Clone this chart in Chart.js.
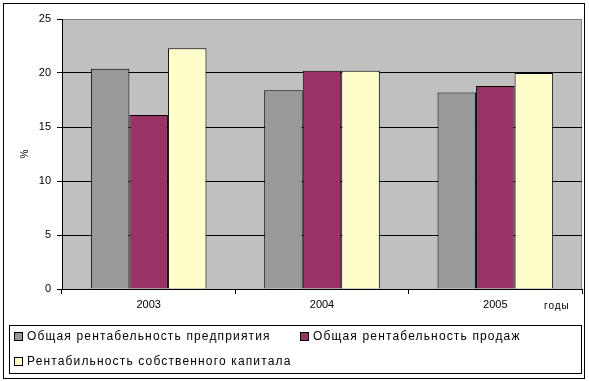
<!DOCTYPE html>
<html>
<head>
<meta charset="utf-8">
<script src="https://cdn.jsdelivr.net/npm/chart.js@4/dist/chart.umd.min.js"></script>
<style>
html,body{margin:0;padding:0;background:#fff;}
#wrap{position:relative;width:589px;height:381px;}
</style>
</head>
<body>
<div id="wrap"><canvas id="c" width="589" height="381"></canvas></div>
<script>
const categories = ['2003', '2004', '2005'];
const seriesNames = [
  'Общая рентабельность предприятия',
  'Общая рентабельность продаж',
  'Рентабильность собственного капитала'
];
const enterpriseProfitability = [20.4, 18.4, 18.2];
const salesProfitability = [16.1, 20.2, 18.8];
const equityProfitability = [22.3, 20.2, 20.0];
const yTicks = [0, 5, 10, 15, 20, 25];
const yAxisTitle = '%';
const xAxisTitle = 'годы';

const colors = ['#999999', '#993366', '#FFFFCC'];
const FONT = '"Liberation Sans", Arial, sans-serif';

const plotBg = {
  id: 'plotBg',
  beforeDraw(chart) {
    const {ctx, chartArea: a} = chart;
    ctx.save();
    ctx.fillStyle = '#C0C0C0';
    ctx.fillRect(a.left, a.top, a.right - a.left, a.bottom - a.top);
    ctx.strokeStyle = '#808080';
    ctx.lineWidth = 1;
    ctx.beginPath();
    ctx.moveTo(a.left, a.top + 0.5);
    ctx.lineTo(a.right - 0.5, a.top + 0.5);
    ctx.lineTo(a.right - 0.5, a.bottom);
    ctx.stroke();
    ctx.restore();
  }
};

const extras = {
  id: 'extras',
  afterDraw(chart) {
    const {ctx} = chart;
    ctx.save();
    // x axis unit label
    ctx.fillStyle = '#000';
    ctx.font = '10px ' + FONT;
    ctx.letterSpacing = '1px';
    ctx.textAlign = 'left';
    ctx.textBaseline = 'middle';
    ctx.fillText(xAxisTitle, 544, 306);
    // legend box
    ctx.strokeStyle = '#000';
    ctx.lineWidth = 1;
    ctx.strokeRect(9.5, 325.5, 572, 48);
    const pos = [[14, 336], [300, 336], [14, 361]];
    ctx.font = '12px ' + FONT;
    ctx.letterSpacing = '1.15px';
    chart.data.datasets.forEach((ds, i) => {
      const [x, y] = pos[i];
      ctx.fillStyle = ds.backgroundColor;
      ctx.fillRect(x + 0.5, y - 3.5, 8, 8);
      ctx.strokeRect(x + 0.5, y - 3.5, 8, 8);
      ctx.fillStyle = '#000';
      ctx.fillText(ds.label, x + 13, y + 1);
    });
    // outer frame
    ctx.letterSpacing = '0px';
    ctx.strokeRect(3.5, 3.5, 581, 375);
    ctx.restore();
  }
};

new Chart(document.getElementById('c'), {
  type: 'bar',
  data: {
    labels: categories,
    datasets: [
      {label: seriesNames[0], data: enterpriseProfitability, backgroundColor: colors[0]},
      {label: seriesNames[1], data: salesProfitability, backgroundColor: colors[1]},
      {label: seriesNames[2], data: equityProfitability, backgroundColor: colors[2]}
    ].map(d => Object.assign(d, {borderColor: '#000', borderWidth: 1, categoryPercentage: 0.667, barPercentage: 1}))
  },
  options: {
    responsive: false,
    animation: false,
    devicePixelRatio: 1,
    layout: {padding: {top: 19, right: 7, left: 0, bottom: 0}},
    plugins: {legend: {display: false}, tooltip: {enabled: false}},
    scales: {
      x: {
        afterFit(s) { s.height = 92; },
        grid: {display: true, drawOnChartArea: false, drawTicks: true, tickLength: 5, tickColor: '#000', offset: true},
        border: {display: true, color: '#000', width: 1},
        ticks: {color: '#000', font: {family: FONT, size: 11}, padding: 4, maxRotation: 0}
      },
      y: {
        min: 0, max: 25,
        afterFit(s) { s.width = 62; },
        afterBuildTicks(s) { s.ticks = yTicks.map(v => ({value: v})); },
        grid: {
          color: c => (c.tick && c.tick.value === 25) ? '#808080' : '#000',
          tickColor: '#000', tickLength: 5, lineWidth: 1
        },
        border: {display: true, color: '#000', width: 1},
        ticks: {color: '#000', font: {family: FONT, size: 11}, padding: 6},
        title: {display: true, text: yAxisTitle, color: '#000', font: {family: FONT, size: 10}, padding: {top: 19, bottom: 0}}
      }
    }
  },
  plugins: [plotBg, extras]
});
</script>
</body>
</html>
